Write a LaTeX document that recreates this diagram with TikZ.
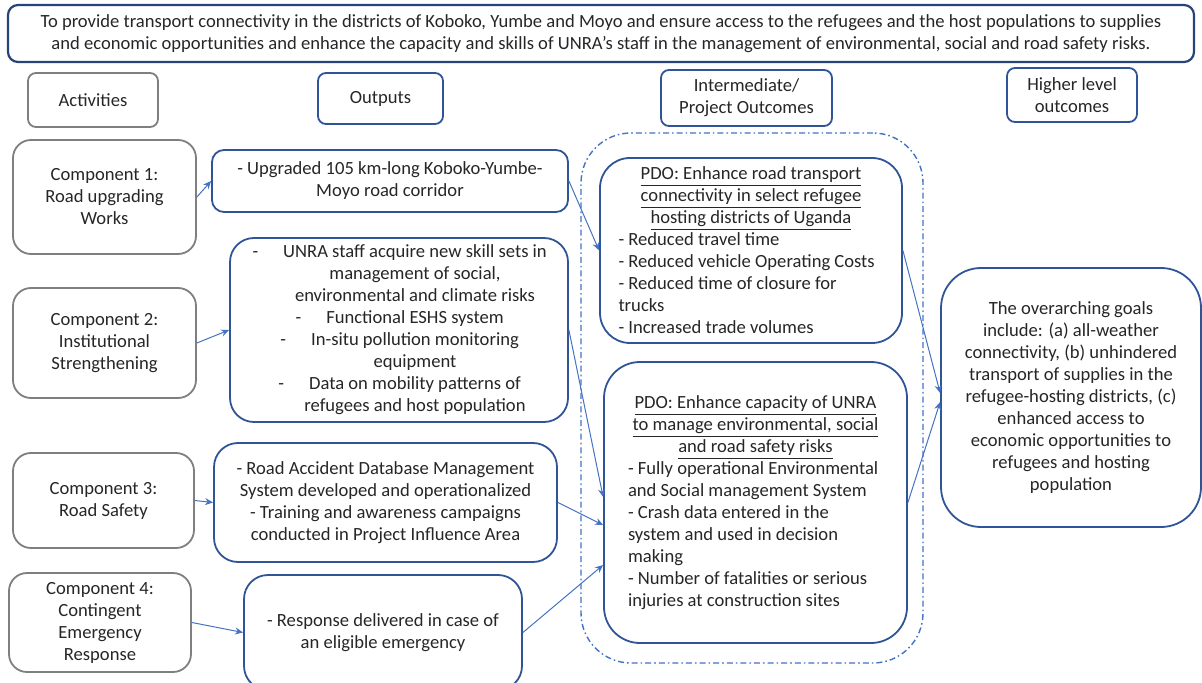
\documentclass[tikz,border=0pt]{standalone}
\usepackage{fontspec}
\setmainfont{Carlito}
\usetikzlibrary{arrows.meta}
\definecolor{boxblue}{HTML}{2F5597}
\definecolor{linkblue}{HTML}{4472C4}
\definecolor{actgray}{HTML}{7F7F7F}
\definecolor{txtgray}{HTML}{262626}
\newcommand{\hangdash}{\makebox[0pt][r]{-\hspace{12.5pt}}}
\newcommand{\pdoitem}[2]{\makebox[#1][l]{#2}}
\begin{document}
\begin{tikzpicture}[x=0.5pt, y=-0.5pt,
  font=\fontsize{9.3}{11}\selectfont,
  box/.style={rectangle, rounded corners=#1, draw=boxblue, line width=0.9pt, align=center, inner sep=2pt, text=txtgray},
  box/.default=6pt,
  actbox/.style={box=#1, draw=actgray},
  actbox/.default=9pt,
  link/.style={-{Stealth[length=4pt, width=3.5pt]}, draw=linkblue, line width=0.5pt}]
  \useasboundingbox (0, 0) rectangle (1202, 683);

  \node (aim) [box=5pt, draw=boxblue!80!black, line width=1.1pt, minimum width=593pt, minimum height=28.5pt] at (601, 33.5) {To provide transport connectivity in the districts of Koboko, Yumbe and Moyo and ensure access to the refugees and the host populations to supplies\\and economic opportunities and enhance the capacity and skills of UNRA’s staff in the management of environmental, social and road safety risks.};

  \node (hact) [actbox=4pt, minimum width=65pt, minimum height=27pt] at (93, 100) {Activities};
  \node (hout) [box=4pt, minimum width=62.5pt, minimum height=25.5pt] at (380.5, 98.5) {Outputs};
  \node (hint) [box=4pt, minimum width=85.5pt, minimum height=28pt] at (746.5, 98) {Intermediate/\\Project Outcomes};
  \node (hhigh) [box=4pt, minimum width=65pt, minimum height=27pt] at (1072, 95) {Higher level\\outcomes};

  \node (comp1) [actbox, minimum width=91.5pt, minimum height=57pt] at (104.5, 197) {Component 1:\\Road upgrading\\Works};
  \node (comp2) [actbox, minimum width=91.5pt, minimum height=55pt] at (104.5, 343) {Component 2:\\Institutional\\Strengthening};
  \node (comp3) [actbox, minimum width=90.5pt, minimum height=47.5pt] at (103.5, 500.5) {Component 3:\\Road Safety};
  \node (comp4) [actbox, minimum width=91pt, minimum height=49.5pt] at (100, 622.5) {Component 4:\\Contingent\\Emergency\\Response};

  \node (out1) [box=6pt, minimum width=178pt, minimum height=31pt] at (390, 181) {- Upgraded 105 km-long Koboko-Yumbe-\\Moyo road corridor};
  \node (out2) [box=12pt, minimum width=169pt, minimum height=92pt] at (399, 330) {\hspace*{16pt}\begin{tabular}{@{}c@{}}
    \hangdash UNRA staff acquire new skill sets in\\
    management of social,\\
    environmental and climate risks\\
    \hangdash Functional ESHS system\\
    \hangdash In-situ pollution monitoring\\
    equipment\\
    \hangdash Data on mobility patterns of\\
    refugees and host population
  \end{tabular}};
  \node (out3) [box=12pt, minimum width=171.5pt, minimum height=59.5pt] at (385.5, 502.5) {- Road Accident Database Management\\System developed and operationalized\\- Training and awareness campaigns\\conducted in Project Influence Area};
  \node (out4) [box=12pt, minimum width=139pt, minimum height=57.5pt] at (383, 632.5) {- Response delivered in case of\\an eligible emergency};

  \node (pdogroup) [rectangle, rounded corners=25pt, draw=linkblue, line width=0.7pt, dash pattern=on 3pt off 1.5pt on 0.8pt off 1.5pt, minimum width=171pt, minimum height=265pt] at (752, 398) {};
  \node (pdo1) [box=15pt, minimum width=151pt, minimum height=92.5pt] at (751, 250.5) {\underline{PDO: Enhance road transport}\\
    \underline{connectivity in select refugee}\\
    \underline{hosting districts of Uganda}\\
    \pdoitem{132.5pt}{- Reduced travel time}\\
    \pdoitem{132.5pt}{- Reduced vehicle Operating Costs}\\
    \pdoitem{132.5pt}{- Reduced time of closure for}\\
    \pdoitem{132.5pt}{trucks}\\
    \pdoitem{132.5pt}{- Increased trade volumes}};
  \node (pdo2) [box=18pt, minimum width=151.5pt, minimum height=140.5pt] at (755.5, 502.5) {\underline{PDO: Enhance capacity of UNRA}\\
    \underline{to manage environmental, social}\\
    \underline{and road safety risks}\\
    \pdoitem{127.5pt}{- Fully operational Environmental}\\
    \pdoitem{127.5pt}{and Social management System}\\
    \pdoitem{127.5pt}{- Crash data entered in the}\\
    \pdoitem{127.5pt}{system and used in decision}\\
    \pdoitem{127.5pt}{making}\\
    \pdoitem{127.5pt}{- Number of fatalities or serious}\\
    \pdoitem{127.5pt}{injuries at construction sites}};

  \node (higher) [box=20pt, minimum width=130pt, minimum height=129.5pt] at (1071, 397.5) {The overarching goals\\include: (a) all-weather\\connectivity, (b) unhindered\\transport of supplies in the\\refugee-hosting districts, (c)\\enhanced access to\\economic opportunities to\\refugees and hosting\\population};

  \draw[link] (comp1.east) -- (out1.west);
  \draw[link] (comp2.east) -- (out2.west);
  \draw[link] (comp3.east) -- (out3.west);
  \draw[link] (comp4.east) -- (out4.west);
  \draw[link] (out1.east) -- (pdo1.west);
  \draw[link] (out2.east) -- ([yshift=2.75pt]pdo2.west);
  \draw[link] (out3.east) -- ([yshift=-11.25pt]pdo2.west);
  \draw[link] (out4.east) -- ([yshift=-31.25pt]pdo2.west);
  \draw[link] (pdo1.east) -- ([yshift=2.25pt]higher.west);
  \draw[link] (pdo2.east) -- ([yshift=-2.25pt]higher.west);
\end{tikzpicture}
\end{document}
